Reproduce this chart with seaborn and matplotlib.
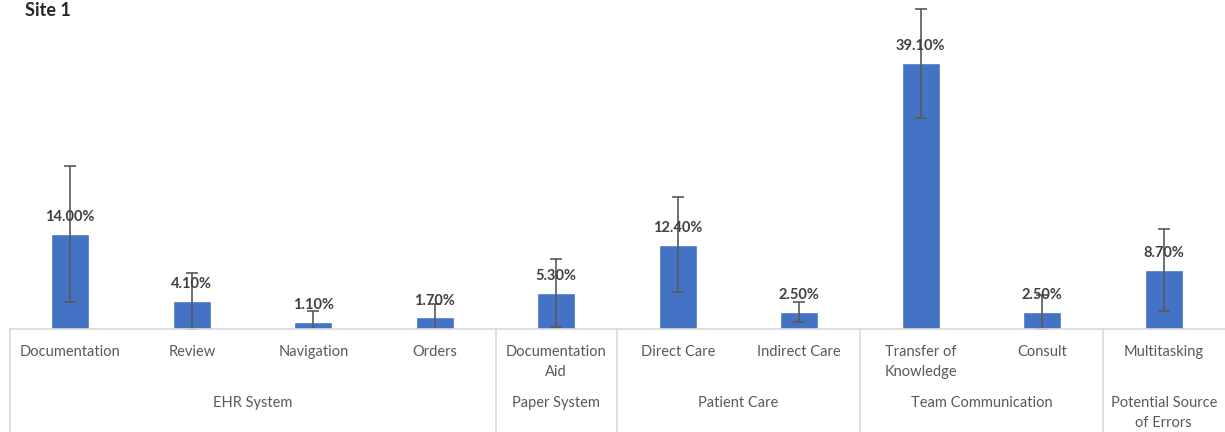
import pandas as pd
import numpy as np
import seaborn as sns
import matplotlib.pyplot as plt

categories = ["Documentation", "Review", "Navigation", "Orders", "Documentation\nAid",
              "Direct Care", "Indirect Care", "Transfer of\nKnowledge", "Consult", "Multitasking"]
groups = ["EHR System", "EHR System", "EHR System", "EHR System", "Paper System",
          "Patient Care", "Patient Care", "Team Communication", "Team Communication",
          "Potential Source\nof Errors"]
values = [14.0, 4.1, 1.1, 1.7, 5.3, 12.4, 2.5, 39.1, 2.5, 8.7]
errors = [10.0, 4.2, 1.5, 2.0, 5.0, 7.0, 1.5, 8.0, 2.5, 6.0]

sns.set_style("white")
plt.rcParams['font.family'] = ['Lato', 'DejaVu Sans']

df = pd.DataFrame({"category": categories, "group": groups, "value": values, "err": errors})

fig = plt.figure(figsize=(12.25, 4.32), dpi=100)
ax = fig.add_axes([9.5 / 1225, 103 / 432, 1215 / 1225, 329 / 432])
sns.barplot(data=df, x="category", y="value", color="#4472C4", width=0.31,
            saturation=1, ax=ax, errorbar=None)
ax.errorbar(np.arange(len(df)), df["value"], yerr=df["err"], fmt="none",
            ecolor="#595959", elinewidth=1.2, capsize=4, capthick=1.2)

for i, v in enumerate(df["value"]):
    ax.annotate(f"{v:.2f}%", (i, v), xytext=(0, 7), textcoords="offset points",
                ha="center", va="bottom", fontsize=10.5, fontweight="bold", color="#404040")

ax.set_xlim(-0.5, len(df) - 0.5)
ax.set_ylim(0, 48.4)
ax.set_xlabel("")
ax.set_ylabel("")
ax.set_yticks([])
ax.set_xticks([])
for s in ["top", "left", "right"]:
    ax.spines[s].set_visible(False)
ax.spines["bottom"].set_color("#D9D9D9")
ax.spines["bottom"].set_linewidth(1.2)

trans = ax.get_xaxis_transform()
for i, c in enumerate(df["category"]):
    ax.text(i, -0.048, c, transform=trans, ha="center", va="top", fontsize=10.5,
            color="#595959", linespacing=1.6)

# group separators, no line at the far right edge
bounds = [-0.5]
for i in range(1, len(df)):
    if df["group"][i] != df["group"][i - 1]:
        bounds.append(i - 0.5)
for b in bounds:
    ax.plot([b, b], [0, -0.32], transform=trans, color="#D9D9D9", lw=1.2, clip_on=False)

for g in df["group"].unique():
    idx = df.index[df["group"] == g]
    ax.text(idx.values.mean(), -0.203, g, transform=trans, ha="center", va="top",
            fontsize=10.5, color="#595959", linespacing=1.6)

fig.text(25 / 1225, 1 - 2 / 432, "Site 1", ha="left", va="top", fontsize=13,
         fontweight="bold", color="#262626")

fig.savefig("out.png", dpi=100)
